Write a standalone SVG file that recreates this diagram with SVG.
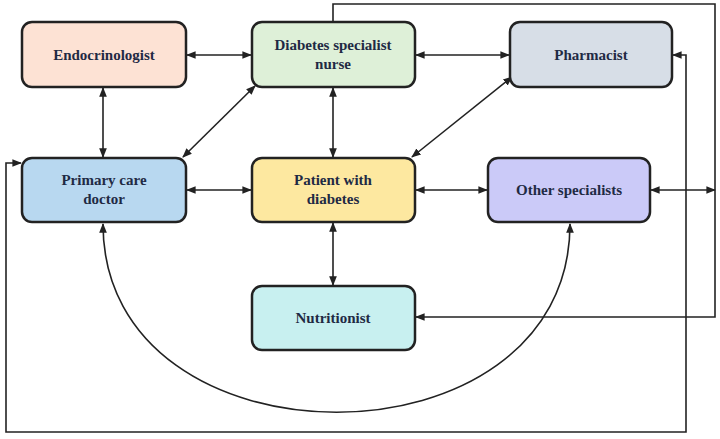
<svg xmlns="http://www.w3.org/2000/svg" width="720" height="439" viewBox="0 0 720 439">
<defs>
<marker id="a" viewBox="0 0 10 10" refX="9" refY="5" markerWidth="6" markerHeight="6" orient="auto-start-reverse"><path d="M0,1 L10,5 L0,9 z" fill="#222"/></marker>
<style>
.n rect{stroke:#222;stroke-width:2.5}
.n text{font-family:"Liberation Serif",serif;font-weight:bold;font-size:15px;fill:#1f2a44;text-anchor:middle}
.c path{fill:none;stroke:#222;stroke-width:1.6}
.d{marker-start:url(#a);marker-end:url(#a)}
.e{marker-end:url(#a)}
</style>
</defs>
<rect width="720" height="439" fill="#fff"/>
<g class="c">
<path class="d" d="M187,55 H251"/>
<path class="d" d="M416,55 H509"/>
<path class="d" d="M103,88 V157"/>
<path class="d" d="M333,88 V157"/>
<path class="d" d="M333,223 V285"/>
<path class="d" d="M187,190 H251"/>
<path class="d" d="M416,190 H487"/>
<path class="d" d="M255,86 L183,157"/>
<path class="d" d="M512,77 L412,157"/>
<path class="d" d="M103,224 C103,475 570,475 570,224"/>
<path class="e" d="M333,22 V4 H715 V317 H416"/>
<path class="d" d="M651,190 H715"/>
<path class="d" d="M673,55 H686 V432 H6 V163 H21"/>
</g>
<g id="endo" class="n"><rect x="22" y="22" width="164" height="65" rx="10" fill="#fde2d4"/><text x="104" y="60">Endocrinologist</text></g>
<g id="nurse" class="n"><rect x="252" y="22" width="163" height="65" rx="10" fill="#def0d8"/><text x="333" y="50">Diabetes specialist</text><text x="333" y="69">nurse</text></g>
<g id="pharm" class="n"><rect x="510" y="22" width="162" height="65" rx="10" fill="#d7dee7"/><text x="591" y="60">Pharmacist</text></g>
<g id="primary" class="n"><rect x="22" y="158" width="164" height="64" rx="10" fill="#b8d8f0"/><text x="104" y="185">Primary care</text><text x="104" y="204">doctor</text></g>
<g id="patient" class="n"><rect x="252" y="158" width="163" height="64" rx="10" fill="#fde8a0"/><text x="333" y="185">Patient with</text><text x="333" y="204">diabetes</text></g>
<g id="other" class="n"><rect x="488" y="158" width="162" height="64" rx="10" fill="#cbcaf8"/><text x="569" y="195">Other specialists</text></g>
<g id="nutri" class="n"><rect x="252" y="286" width="163" height="64" rx="10" fill="#c8f0f0"/><text x="333" y="323">Nutritionist</text></g>
</svg>
